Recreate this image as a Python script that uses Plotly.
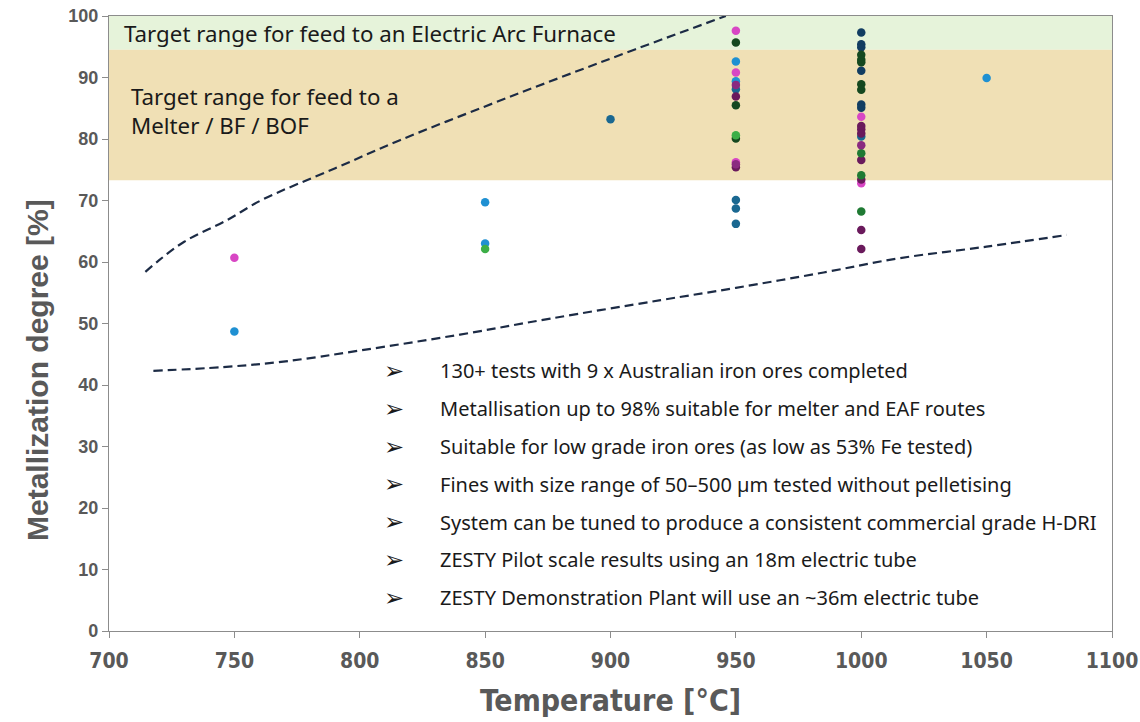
import plotly.graph_objects as go

# ---------------- data ----------------
# upper / lower dashed envelope curves (temperature, metallization)
upper_T = [714.5, 720, 730, 747, 761, 790, 816, 850, 880, 910, 946]
upper_M = [58.4, 60.3, 63.3, 66.8, 70.1, 75.2, 79.8, 85.3, 90.0, 94.6, 100.0]
lower_T = [717.7, 745, 769.5, 800, 840, 876, 920, 950, 985, 1015, 1050, 1082]
lower_M = [42.3, 42.9, 43.8, 45.6, 48.2, 50.8, 53.8, 55.8, 58.3, 60.6, 62.5, 64.4]

# test results grouped by ore (colour)
ore1_T = [750, 950, 950, 950, 1000, 1000]
ore1_M = [60.7, 97.6, 90.8, 76.2, 83.6, 72.8]
ore2_T = [750, 850, 850, 950, 950, 1050]
ore2_M = [48.7, 69.7, 63.0, 92.6, 89.4, 89.9]
ore3_T = [900, 950, 950, 950, 950, 1000]
ore3_M = [83.2, 88.1, 70.1, 68.7, 66.2, 80.4]
ore4_T = [1000, 1000, 1000, 1000, 1000, 1000]
ore4_M = [97.3, 95.4, 94.9, 91.1, 85.6, 85.1]
ore5_T = [950, 950, 950, 1000, 1000, 1000, 1000, 1000]
ore5_M = [95.7, 85.5, 80.1, 93.7, 92.9, 92.5, 88.9, 88.0]
ore6_T = [850, 950]
ore6_M = [62.1, 80.6]
ore7_T = [950, 950, 1000, 1000, 1000, 1000, 1000, 1000, 1000]
ore7_M = [86.9, 75.4, 82.1, 81.6, 80.9, 76.6, 73.4, 65.2, 62.1]
ore8_T = [1000, 1000, 1000]
ore8_M = [68.2, 77.7, 74.1]
ore9_T = [950, 950, 1000]
ore9_M = [88.8, 75.9, 79.0]

ore_T = [ore1_T, ore2_T, ore3_T, ore4_T, ore5_T, ore6_T, ore7_T, ore8_T, ore9_T]
ore_M = [ore1_M, ore2_M, ore3_M, ore4_M, ore5_M, ore6_M, ore7_M, ore8_M, ore9_M]
ore_colors = ["#d846c4", "#1f90d2", "#1a6891", "#123d62", "#15481f",
              "#3cae47", "#6a1a5c", "#1f7a33", "#8a2a80"]

# target bands
eaf_band = [94.5, 100]
melter_band = [73.3, 94.5]

bullets = [
    "130+ tests with 9 x Australian iron ores completed",
    "Metallisation up to 98% suitable for melter and EAF routes",
    "Suitable for low grade iron ores (as low as 53% Fe tested)",
    "Fines with size range of 50–500 µm tested without pelletising",
    "System can be tuned to produce a consistent commercial grade H-DRI",
    "ZESTY Pilot scale results using an 18m electric tube",
    "ZESTY Demonstration Plant will use an ~36m electric tube",
]

x_ticks = [700, 750, 800, 850, 900, 950, 1000, 1050, 1100]
y_ticks = [0, 10, 20, 30, 40, 50, 60, 70, 80, 90, 100]

# ---------------- figure ----------------
fig = go.Figure()

line_style = dict(color="#1c2b45", width=2.2, dash="9px,5px", shape="spline")
fig.add_trace(go.Scatter(x=upper_T, y=upper_M, mode="lines", line=line_style,
                         hoverinfo="skip", showlegend=False))
fig.add_trace(go.Scatter(x=lower_T, y=lower_M, mode="lines", line=line_style,
                         hoverinfo="skip", showlegend=False))

for i, (t, m) in enumerate(zip(ore_T, ore_M)):
    fig.add_trace(go.Scatter(x=t, y=m, mode="markers", name=f"Ore {i+1}",
                             marker=dict(size=8.5, color=ore_colors[i]),
                             showlegend=False))

fig.add_shape(type="rect", xref="x domain", yref="y", x0=0, x1=1,
              y0=eaf_band[0], y1=eaf_band[1], fillcolor="#e6f3da",
              line=dict(width=0), layer="below")
fig.add_shape(type="rect", xref="x domain", yref="y", x0=0, x1=1,
              y0=melter_band[0], y1=melter_band[1], fillcolor="#f0e0b5",
              line=dict(width=0), layer="below")

txt_font = dict(family="Noto Sans, Open Sans, sans-serif", size=22.3, color="#1a1a1a")
fig.add_annotation(text="Target range for feed to an Electric Arc Furnace",
                   xref="paper", yref="y", x=0.013, y=97.2, xanchor="left",
                   yanchor="middle", showarrow=False, font=txt_font)
fig.add_annotation(text="Target range for feed to a<br>Melter / BF / BOF",
                   xref="paper", yref="y", x=0.020, y=84.6, xanchor="left",
                   yanchor="middle", showarrow=False, font=txt_font, align="left")

b_font = dict(family="Noto Sans, Open Sans, sans-serif", size=20, color="#1a1a1a")
for k, b in enumerate(bullets):
    yv = 42.3 - k * 6.15
    fig.add_annotation(text="➢", xref="paper", yref="y", x=0.272, y=yv,
                       xanchor="left", yanchor="middle", showarrow=False,
                       font=dict(family="DejaVu Sans", size=24, color="#1a1a1a"))
    fig.add_annotation(text=b, xref="paper", yref="y", x=0.328, y=yv,
                       xanchor="left", yanchor="middle", showarrow=False,
                       font=b_font)

axis_common = dict(showgrid=False, zeroline=False, showline=True,
                   linecolor="#8c8c8c", linewidth=1.3, mirror=True,
                   ticks="outside", ticklen=6, tickcolor="#8c8c8c",
                   automargin=False)

cond = "DejaVu Sans Condensed, Liberation Sans Narrow, sans-serif"
fig.update_xaxes(range=[700, 1100], tickvals=x_ticks, **axis_common,
                 ticklabelstandoff=5,
                 tickfont=dict(family=cond, size=21, color="#595959", weight="bold"),
                 title=dict(text="Temperature [°C]", standoff=17,
                            font=dict(family=cond, size=30, color="#595959",
                                      weight="bold")))
fig.update_yaxes(range=[0, 100], tickvals=y_ticks, **axis_common,
                 tickfont=dict(family="Liberation Sans, Arial, sans-serif",
                               size=18, color="#595959", weight="bold"))

# y-axis title placed as a rotated annotation (it sits below the plot centre)
fig.add_annotation(text="Metallization degree [%]", textangle=-90,
                   xref="paper", yref="paper", x=-0.072, y=0.424,
                   xanchor="center", yanchor="middle", showarrow=False,
                   font=dict(family="Liberation Sans, Arial, sans-serif",
                             size=30, color="#595959", weight="bold"))

fig.update_layout(width=1140, height=722, plot_bgcolor="white", paper_bgcolor="white",
                  margin=dict(l=109, r=28, t=16, b=91), showlegend=False)

fig.write_html("out.html", config={"displayModeBar": False},
               post_script="document.body.style.margin='0';"
                           "document.body.style.overflow='hidden';")
